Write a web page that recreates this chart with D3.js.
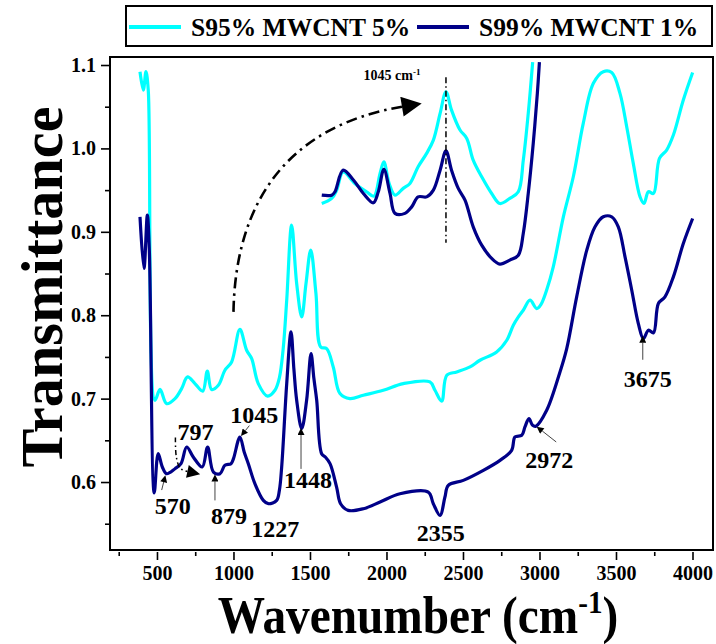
<!DOCTYPE html>
<html>
<head>
<meta charset="utf-8">
<script src="https://cdn.jsdelivr.net/npm/d3@7"></script>
<style>
  body { margin: 0; background: #fff; }
  svg { display: block; font-family: "Liberation Serif", "Times New Roman", serif; font-weight: bold; }
</style>
</head>
<body>
<div id="chart"></div>
<script>
// ---- data ----
const seriesNames = ["S95% MWCNT 5%", "S99% MWCNT 1%"];

const s95Wn = [389, 411, 428, 443, 487, 520, 563, 618, 661, 700, 748, 799, 829, 857, 901, 944, 988, 1042, 1086, 1119,
  1162, 1223, 1271, 1300, 1325, 1348, 1380, 1413, 1446, 1474, 1505, 1539, 1570, 1609, 1652, 1696, 1761, 1849, 1979, 2110, 2284,
  2317, 2361, 2394, 2459, 2546, 2611, 2720, 2786, 2829, 2862, 2894, 2938, 2982, 3010, 3050, 3090, 3156, 3221, 3286, 3352,
  3417, 3472, 3526, 3570, 3613, 3657, 3683, 3712, 3745, 3784, 3831, 3875, 3940, 4001];
const s95T = [1.092, 1.070, 1.092, 1.070, 0.698, 0.711, 0.694, 0.700, 0.712, 0.726, 0.718, 0.709, 0.733, 0.711, 0.716, 0.734, 0.744, 0.783, 0.758, 0.748,
  0.718, 0.703, 0.710, 0.725, 0.760, 0.818, 0.908, 0.838, 0.798, 0.838, 0.878, 0.826, 0.762, 0.760, 0.738, 0.706, 0.700, 0.704, 0.710, 0.718, 0.720,
  0.710, 0.697, 0.728, 0.732, 0.738, 0.746, 0.756, 0.770, 0.788, 0.798, 0.806, 0.818, 0.808, 0.813, 0.832, 0.858, 0.918, 0.966, 1.030, 1.078,
  1.092, 1.091, 1.066, 1.026, 0.982, 0.942, 0.934, 0.948, 0.946, 0.988, 0.998, 1.016, 1.058, 1.091];

const s99Wn = [389, 415, 437, 450, 482, 508, 535, 563, 618, 657, 694, 737, 796, 831, 869, 912, 944, 984, 1000, 1042,
  1070, 1097, 1140, 1195, 1228, 1282, 1300, 1315, 1348, 1376, 1395, 1413, 1446, 1478, 1507, 1525, 1544, 1576, 1600, 1631,
  1674, 1700, 1750, 1849, 1958, 2088, 2273, 2306, 2350, 2382, 2404, 2502, 2633, 2742, 2818, 2840, 2884, 2905, 2931, 2955,
  2977, 3047, 3134, 3178, 3243, 3309, 3363, 3417, 3472, 3515, 3559, 3603, 3646, 3679, 3712, 3745, 3777, 3820, 3875, 3940, 4001];
const s99T = [0.918, 0.856, 0.920, 0.878, 0.587, 0.634, 0.618, 0.610, 0.616, 0.622, 0.642, 0.630, 0.618, 0.642, 0.612, 0.610, 0.620, 0.622, 0.628, 0.654,
  0.636, 0.622, 0.598, 0.578, 0.574, 0.578, 0.590, 0.618, 0.718, 0.780, 0.735, 0.698, 0.664, 0.698, 0.754, 0.725, 0.698, 0.634, 0.630, 0.622,
  0.594, 0.574, 0.566, 0.568, 0.576, 0.586, 0.588, 0.574, 0.560, 0.582, 0.596, 0.602, 0.614, 0.626, 0.638, 0.654, 0.656, 0.666, 0.676, 0.668,
  0.667, 0.686, 0.732, 0.760, 0.822, 0.878, 0.906, 0.918, 0.918, 0.906, 0.870, 0.830, 0.790, 0.772, 0.782, 0.779, 0.814, 0.822, 0.846, 0.886, 0.916];

// inset (magnified 600-1370 cm-1 region)
const insetS95Wn = [621, 655, 672, 694, 734, 774, 799, 820, 833, 851, 871, 899, 922, 950, 979, 1002, 1025, 1045, 1064, 1093,
  1116, 1138, 1167, 1201, 1229, 1263, 1292, 1309, 1326, 1341];
const insetS95T = [0.6177, 0.6213, 0.6272, 0.6401, 0.6319, 0.6260, 0.6229, 0.6390, 0.6472, 0.6319, 0.6236, 0.6284, 0.6319, 0.6437, 0.6532, 0.6626, 0.6815, 0.6968, 0.6838, 0.6697,
  0.6638, 0.6484, 0.6366, 0.6248, 0.6177, 0.6213, 0.6260, 0.6484, 0.6817, 0.7178];
const insetS99Wn = [621, 655, 666, 694, 729, 763, 797, 814, 833, 854, 871, 905, 928, 950, 979, 1002, 1025, 1045, 1064, 1087,
  1110, 1138, 1167, 1201, 1229, 1263, 1292, 1309, 1326, 1343, 1357, 1364];
const insetS99T = [0.6236, 0.6236, 0.6260, 0.6413, 0.6343, 0.6248, 0.6182, 0.6260, 0.6418, 0.6248, 0.6107, 0.6107, 0.6153, 0.6224, 0.6224, 0.6272, 0.6413, 0.6550, 0.6413, 0.6284,
  0.6201, 0.6012, 0.5882, 0.5788, 0.5748, 0.5776, 0.5811, 0.5967, 0.6250, 0.6605, 0.6959, 0.7178];

const xTicks = [500, 1000, 1500, 2000, 2500, 3000, 3500, 4000];
const xMinor = [250, 750, 1250, 1750, 2250, 2750, 3250, 3750];
const yTicks = [0.6, 0.7, 0.8, 0.9, 1.0, 1.1];
const yMinor = [0.55, 0.65, 0.75, 0.85, 0.95, 1.05];

const peakWn = [570, 797, 879, 1045, 1227, 1448, 2355, 2972, 3675];
const insetPeak = 1045;

// ---- layout ----
const W = 716, H = 644;
const frame = {left: 110, top: 57, right: 713, bottom: 550};
const colors = ["#00ffff", "#000088"];

const svg = d3.select("#chart").append("svg")
    .attr("width", W)
    .attr("height", H);

const defs = svg.append("defs");
function marker(id, w, h) {
  defs.append("marker")
      .attr("id", id)
      .attr("viewBox", "0 0 10 10")
      .attr("refX", 0).attr("refY", 5)
      .attr("markerUnits", "userSpaceOnUse")
      .attr("markerWidth", w).attr("markerHeight", h)
      .attr("orient", "auto")
    .append("path")
      .attr("d", "M0,0L10,5L0,10z")
      .attr("fill", "#000");
}
marker("arrowSmall", 8, 7);
marker("arrowMid", 15, 13);
marker("arrowBig", 28, 20);

defs.append("clipPath").attr("id", "clip")
  .append("rect")
    .attr("x", frame.left).attr("y", frame.top)
    .attr("width", frame.right - frame.left).attr("height", frame.bottom - frame.top);

const x = d3.scaleLinear().domain([193, 4134]).range([frame.left, frame.right]);
const y = d3.scaleLinear().domain([0.5185, 1.1096]).range([frame.bottom, frame.top]);
const xIn = d3.scaleLinear().domain([615, 1366]).range([320, 540]);
const yIn = d3.scaleLinear().domain([0.56, 0.72]).range([285, 59]);

// frame
svg.append("rect")
    .attr("x", frame.left).attr("y", frame.top)
    .attr("width", frame.right - frame.left).attr("height", frame.bottom - frame.top)
    .attr("fill", "none").attr("stroke", "#000").attr("stroke-width", 2);

// x axis
const xAxis = svg.append("g")
    .attr("transform", `translate(0,${frame.bottom + 2})`)
    .call(d3.axisBottom(x).tickValues(xTicks).tickSize(8).tickPadding(6).tickFormat(d3.format("d")));
const xAxisMinor = svg.append("g")
    .attr("transform", `translate(0,${frame.bottom + 2})`)
    .call(d3.axisBottom(x).tickValues(xMinor).tickSize(4).tickFormat(""));

// y axis
const yAxis = svg.append("g")
    .attr("transform", `translate(${frame.left - 1},0)`)
    .call(d3.axisLeft(y).tickValues(yTicks).tickSize(8).tickPadding(5).tickFormat(d3.format(".1f")));
const yAxisMinor = svg.append("g")
    .attr("transform", `translate(${frame.left - 1},0)`)
    .call(d3.axisLeft(y).tickValues(yMinor).tickSize(4).tickFormat(""));

[xAxis, xAxisMinor, yAxis, yAxisMinor].forEach(function(g) {
  g.select(".domain").remove();
  g.selectAll("line").attr("stroke", "#000").attr("stroke-width", 1.6);
  g.selectAll("text")
      .attr("fill", "#000")
      .style("font-family", "Liberation Serif, serif")
      .style("font-weight", "bold")
      .style("font-size", "20px");
});

// axis titles
svg.append("text")
    .attr("transform", "translate(62,287) rotate(-90) scale(0.97,1)")
    .attr("text-anchor", "middle")
    .style("font-size", "60px")
    .text("Transmittance");

const xTitle = svg.append("text")
    .attr("transform", "translate(418,633) scale(0.91,1)")
    .attr("text-anchor", "middle")
    .style("font-size", "52px");
xTitle.append("tspan").text("Wavenumber (cm");
xTitle.append("tspan").attr("dy", -20).style("font-size", "32px").text("-1");
xTitle.append("tspan").attr("dy", 20).text(")");

// main curves
const line = d3.line()
    .x(function(d) { return x(d[0]); })
    .y(function(d) { return y(d[1]); })
    .curve(d3.curveCatmullRom.alpha(0.5));

const mainData = [d3.zip(s95Wn, s95T), d3.zip(s99Wn, s99T)];
svg.append("g").attr("clip-path", "url(#clip)")
  .selectAll("path")
  .data(mainData)
  .join("path")
    .attr("d", line)
    .attr("fill", "none")
    .attr("stroke", function(d, i) { return colors[i]; })
    .attr("stroke-width", 3.2)
    .attr("stroke-linejoin", "round");

// inset curves
const insetLine = d3.line()
    .x(function(d) { return xIn(d[0]); })
    .y(function(d) { return yIn(d[1]); })
    .curve(d3.curveCatmullRom.alpha(0.5));

const insetData = [d3.zip(insetS95Wn, insetS95T), d3.zip(insetS99Wn, insetS99T)];
svg.append("g").attr("clip-path", "url(#clip)")
  .selectAll("path")
  .data(insetData)
  .join("path")
    .attr("d", insetLine)
    .attr("fill", "none")
    .attr("stroke", function(d, i) { return colors[i]; })
    .attr("stroke-width", 3.2)
    .attr("stroke-linejoin", "round");

// inset marker line + label
svg.append("line")
    .attr("x1", xIn(insetPeak)).attr("x2", xIn(insetPeak))
    .attr("y1", yIn(0.707)).attr("y2", yIn(0.590))
    .attr("stroke", "#000").attr("stroke-width", 1.5)
    .attr("stroke-dasharray", "6,3,1.5,3");

const inLabel = svg.append("text")
    .attr("x", xIn(insetPeak) - 54).attr("y", 80)
    .attr("text-anchor", "middle")
    .style("font-size", "14px");
inLabel.append("tspan").text(insetPeak + " cm");
inLabel.append("tspan").attr("dy", -5).style("font-size", "9px").text("-1");

// big dash-dot arrow from main peak to inset
const sx = x(1000), sy = y(0.804);
const ex = xIn(insetPeak) - 44, ey = y(1.05);
svg.append("path")
    .attr("d", `M${sx},${sy} C${sx + 2},${sy - 112} ${sx + 56},${ey + 19} ${ex},${ey}`)
    .attr("fill", "none")
    .attr("stroke", "#000").attr("stroke-width", 2.6)
    .attr("stroke-dasharray", "11,5,2.5,5")
    .attr("marker-end", "url(#arrowBig)");

// peak annotations on the S99 curve
function s99At(w) {
  const i = d3.bisectLeft(s99Wn, w);
  const t = (w - s99Wn[i - 1]) / (s99Wn[i] - s99Wn[i - 1]);
  return s99T[i - 1] + t * (s99T[i] - s99T[i - 1]);
}

const annot = {
  570:  {label: [5, 41],   arrow: [[-6, 17], [-4, 9]]},
  797:  {label: [-7, -26], path: [[-27, -29], [-26, -9], [-22, 2], [-15, 5]]},
  879:  {label: [14, 52],  arrow: [[0, 28], [0, 9]]},
  1045: {label: [14, -16], arrow: [[9, -13], [5, -8]]},
  1227: {label: [7, 33]},
  1448: {label: [6, 61],   arrow: [[-1, 42], [-1, 8]]},
  2355: {label: [0, 28]},
  2972: {label: [14, 42],  arrow: [[21, 16], [7, 5]]},
  3675: {label: [5, 50],   arrow: [[0, 23], [0, 6]]}
};

const ann = svg.append("g");
peakWn.forEach(function(w) {
  const px = x(w), py = y(s99At(w));
  const a = annot[w];
  ann.append("text")
      .attr("x", px + a.label[0]).attr("y", py + a.label[1])
      .attr("text-anchor", "middle")
      .style("font-size", "24px")
      .text(w);
  if (a.arrow) {
    ann.append("line")
        .attr("x1", px + a.arrow[0][0]).attr("y1", py + a.arrow[0][1])
        .attr("x2", px + a.arrow[1][0]).attr("y2", py + a.arrow[1][1])
        .attr("stroke", "#444").attr("stroke-width", 1)
        .attr("marker-end", "url(#arrowSmall)");
  }
  if (a.path) {
    ann.append("path")
        .attr("d", d3.line().curve(d3.curveCatmullRom)(a.path.map(function(p) { return [px + p[0], py + p[1]]; })))
        .attr("fill", "none")
        .attr("stroke", "#000").attr("stroke-width", 1.5)
        .attr("stroke-dasharray", "5,3,1.5,3")
        .attr("marker-end", "url(#arrowMid)");
  }
});

// legend
const legend = svg.append("g");
legend.append("rect")
    .attr("x", 126).attr("y", 6).attr("width", 586).attr("height", 40)
    .attr("fill", "#fff").attr("stroke", "#000").attr("stroke-width", 2);
const legX = [129, 417];
seriesNames.forEach(function(name, i) {
  legend.append("line")
      .attr("x1", legX[i]).attr("x2", legX[i] + 52)
      .attr("y1", 27).attr("y2", 27)
      .attr("stroke", colors[i]).attr("stroke-width", 4);
  legend.append("text")
      .attr("x", legX[i] + 62).attr("y", 36)
      .style("font-size", "25.5px")
      .text(name);
});
</script>
</body>
</html>
